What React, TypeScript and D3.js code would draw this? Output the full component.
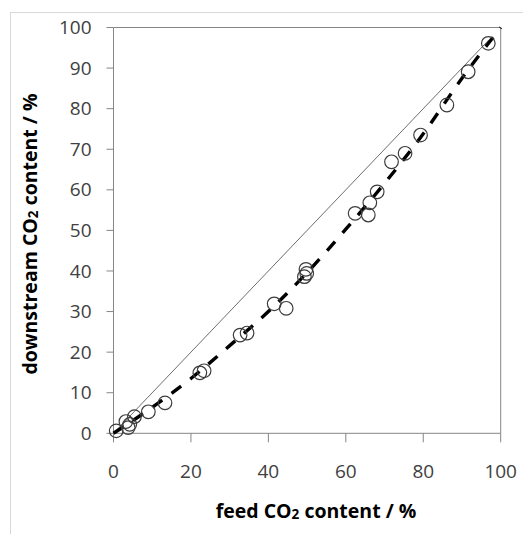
import React from "react";
import * as d3 from "d3";

// Measured feed vs downstream CO2 content (%)
const feedCO2 = [0.7, 3.2, 3.8, 4.2, 5.4, 9.0, 13.3, 22.3, 23.4, 32.7, 34.5, 41.5, 44.6, 49.3, 49.7, 49.9, 62.4, 65.8, 66.2, 68.1, 71.8, 75.3, 79.3, 86.1, 91.6, 96.8];
const downstreamCO2 = [0.6, 2.9, 1.4, 2.2, 4.1, 5.3, 7.5, 14.9, 15.4, 24.2, 24.7, 31.9, 30.8, 38.6, 40.4, 39.4, 54.2, 53.8, 56.8, 59.5, 66.9, 69.0, 73.5, 80.9, 89.1, 96.1];

// Model prediction (dashed curve)
const modelFeed = [0, 10, 20, 30, 40, 50, 60, 70, 80, 90, 100];
const modelDownstream = [0, 6.4, 13.5, 21.6, 30.0, 39.6, 50.3, 61.6, 73.8, 87.5, 100];

// No-separation reference line (downstream = feed)
const parityFeed = [0, 97];
const parityDownstream = [0, 97];

const xTicks = [0, 20, 40, 60, 80, 100];
const yTicks = [0, 10, 20, 30, 40, 50, 60, 70, 80, 90, 100];

const W = 523;
const H = 534;
const plot = { left: 113.5, right: 500.7, top: 27.5, bottom: 433.3 };

export default function App() {
  const x = d3.scaleLinear().domain([0, 100]).range([plot.left, plot.right]);
  const y = d3.scaleLinear().domain([0, 100]).range([plot.bottom, plot.top]);

  const line = d3
    .line<[number, number]>()
    .x((d) => x(d[0]))
    .y((d) => y(d[1]));
  const curve = d3
    .line<[number, number]>()
    .x((d) => x(d[0]))
    .y((d) => y(d[1]))
    .curve(d3.curveMonotoneX);

  const parity = line(parityFeed.map((v, i) => [v, parityDownstream[i]] as [number, number])) || "";
  const model = curve(modelFeed.map((v, i) => [v, modelDownstream[i]] as [number, number])) || "";

  const axisColor = "#868686";
  const tickFont = "'Open Sans', 'Noto Sans', sans-serif";

  return (
    <svg
      width={W}
      height={H}
      style={{ position: "absolute", left: 0, top: 0, background: "#fff" }}
      fontFamily={tickFont}
    >
      {/* chart area frame */}
      <rect x={10.5} y={12.5} width={W + 20} height={H + 20} fill="#fff" stroke="#d9d9d9" strokeWidth={1} />

      {/* plot frame: top and right edges */}
      <line x1={plot.left} x2={plot.right} y1={plot.top} y2={plot.top} stroke={axisColor} strokeWidth={1} />
      <line x1={plot.right} x2={plot.right} y1={plot.top} y2={plot.bottom} stroke={axisColor} strokeWidth={1} />

      {/* y axis */}
      <line x1={plot.left} x2={plot.left} y1={plot.top} y2={plot.bottom} stroke={axisColor} strokeWidth={1} />
      {yTicks.map((t) => (
        <g key={"y" + t}>
          <line x1={plot.left - 7} x2={plot.left} y1={y(t)} y2={y(t)} stroke={axisColor} strokeWidth={1} />
          <text x={91.5} y={y(t)} dy="0.35em" textAnchor="end" fontSize={19} fill="#404040">
            {t}
          </text>
        </g>
      ))}

      {/* x axis */}
      <line x1={plot.left} x2={plot.right} y1={plot.bottom} y2={plot.bottom} stroke={axisColor} strokeWidth={1} />
      {xTicks.map((t) => (
        <g key={"x" + t}>
          <line x1={x(t)} x2={x(t)} y1={plot.bottom} y2={plot.bottom + 9} stroke={axisColor} strokeWidth={1} />
          <text x={x(t)} y={471} dy="0.35em" textAnchor="middle" fontSize={19} fill="#404040">
            {t}
          </text>
        </g>
      ))}

      {/* parity line */}
      <path d={parity} fill="none" stroke="#6e6e6e" strokeWidth={1} />

      {/* model curve */}
      <path d={model} fill="none" stroke="#000" strokeWidth={3.4} strokeDasharray="12 11.5" />

      {/* measurements */}
      {feedCO2.map((v, i) => (
        <circle key={"p" + i} cx={x(v)} cy={y(downstreamCO2[i])} r={6.8} fill="none" stroke="#3c3c3c" strokeWidth={1.2} />
      ))}

      {/* axis titles */}
      <text x={316} y={511} dy="0.35em" textAnchor="middle" fontSize={19.5} fontWeight="bold" fill="#000">
        feed CO<tspan fontSize={13.5} dy={1}>2</tspan>
        <tspan dy={-1}> content / %</tspan>
      </text>
      <text
        transform={`translate(30, 234) rotate(-90)`}
        textAnchor="middle"
        dy="0.35em"
        fontSize={19.5}
        fontWeight="bold"
        fill="#000"
      >
        downstream CO<tspan fontSize={13.5} dy={1}>2</tspan>
        <tspan dy={-1}> content / %</tspan>
      </text>
    </svg>
  );
}
